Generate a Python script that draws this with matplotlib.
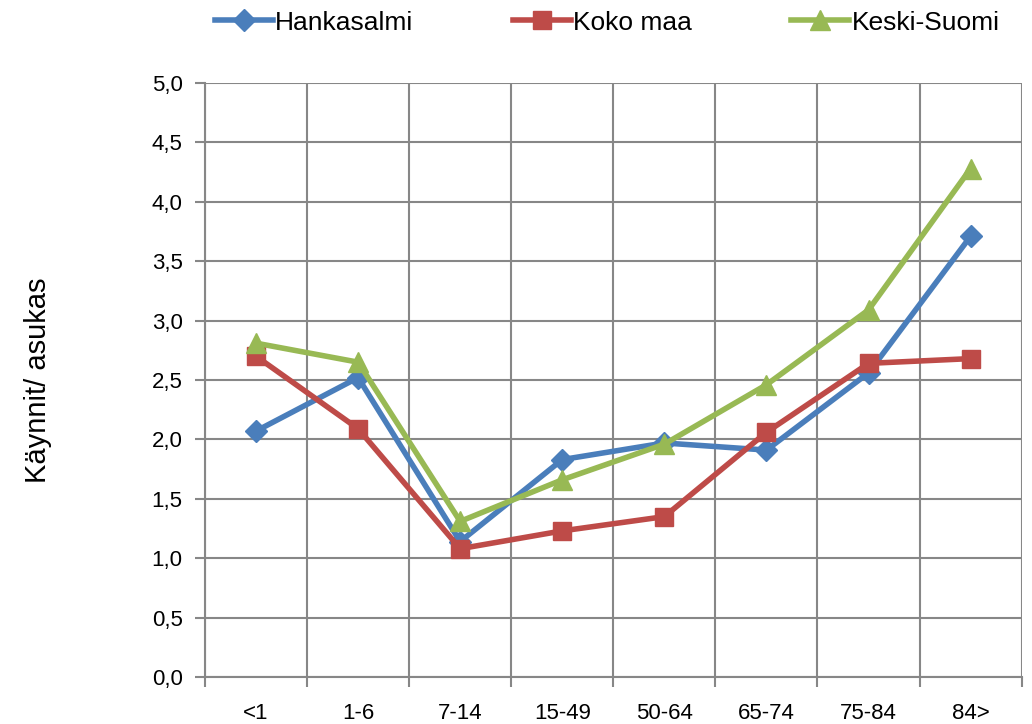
import matplotlib
matplotlib.use("Agg")
import matplotlib.pyplot as plt
import numpy as np
from matplotlib.ticker import FixedLocator, FuncFormatter

categories = ["<1", "1-6", "7-14", "15-49", "50-64", "65-74", "75-84", "84>"]
hankasalmi = [2.07, 2.52, 1.14, 1.83, 1.97, 1.91, 2.56, 3.71]
koko_maa = [2.70, 2.09, 1.08, 1.23, 1.35, 2.06, 2.64, 2.68]
keski_suomi = [2.81, 2.65, 1.31, 1.66, 1.96, 2.46, 3.09, 4.28]
yticks = [0.0, 0.5, 1.0, 1.5, 2.0, 2.5, 3.0, 3.5, 4.0, 4.5, 5.0]

plt.rcParams['font.family'] = ['Liberation Sans', 'DejaVu Sans']

fig = plt.figure(figsize=(10.32, 7.24), dpi=100)
ax = fig.add_axes([0.1986, 0.0649, 0.7914, 0.8205])

x = np.arange(len(categories))
ax.plot(x, hankasalmi, color="#4A7EBB", lw=4, marker="D", ms=11, label="Hankasalmi", zorder=3)
ax.plot(x, koko_maa, color="#BE4B48", lw=4, marker="s", ms=13, label="Koko maa", zorder=3)
ax.plot(x, keski_suomi, color="#98B954", lw=4, marker="^", ms=15, label="Keski-Suomi", zorder=4)

ax.set_xlim(-0.5, len(categories) - 0.5)
ax.set_ylim(0, 5)
ax.set_xticks(x)
ax.set_xticklabels(categories)
ax.xaxis.set_minor_locator(FixedLocator(np.arange(len(categories) + 1) - 0.5))
ax.set_yticks(yticks)
ax.yaxis.set_major_formatter(FuncFormatter(lambda v, p: f"{v:.1f}".replace(".", ",")))

ax.grid(True, which="minor", axis="x", color="#878787", lw=1.5)
ax.grid(True, which="major", axis="y", color="#878787", lw=1.5)
ax.set_axisbelow(True)
ax.tick_params(axis="x", which="major", length=0, labelsize=16, pad=19)
ax.tick_params(axis="x", which="minor", length=7, width=1.5, color="#878787")
ax.tick_params(axis="y", which="major", length=7, width=1.5, color="#878787", labelsize=16, pad=9)
for s in ["top", "right"]:
    ax.spines[s].set_visible(False)
for s in ["left", "bottom"]:
    ax.spines[s].set_color("#878787")
    ax.spines[s].set_linewidth(1.5)

ax.set_ylabel("Käynnit/ asukas", fontsize=21, labelpad=72)

fig.legend(loc="upper left", bbox_to_anchor=(0.185, 1.018), ncol=3, frameon=False,
           fontsize=19, handlelength=2.2, columnspacing=3.75, handletextpad=0.1)

fig.savefig("out.png", dpi=100)
